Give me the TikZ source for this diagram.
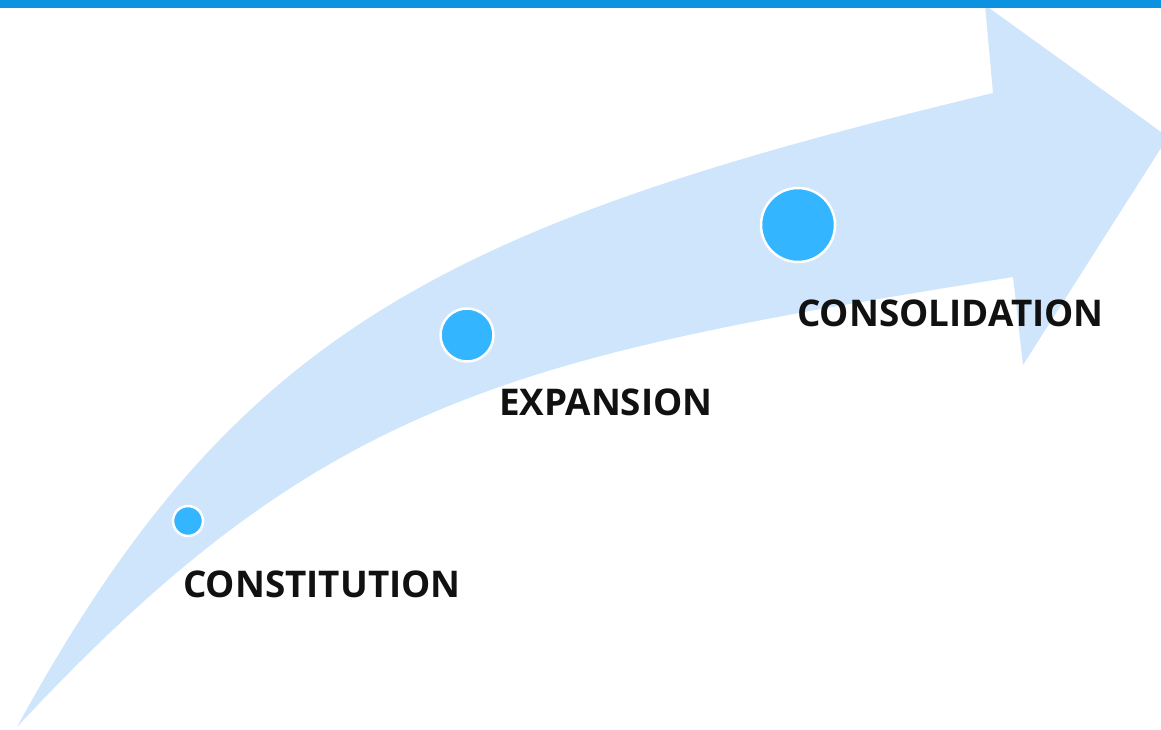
\documentclass[tikz,border=0pt]{standalone}
\usepackage{fontspec}
\setmainfont{Open Sans}
\definecolor{barblue}{RGB}{11,147,225}
\definecolor{arrowfill}{RGB}{207,229,252}
\definecolor{dotfill}{RGB}{51,181,255}
\definecolor{labelink}{RGB}{17,17,17}
\tikzset{
  dot/.style={circle, fill=dotfill, draw=white, line width=2.5pt, inner sep=0pt},
  stagelabel/.style={anchor=base west, inner sep=0pt, text=labelink,
    font=\fontsize{36.8}{40}\selectfont\bfseries},
}
\begin{document}
\begin{tikzpicture}[x=1pt,y=-1pt]
\useasboundingbox (0,0) rectangle (1161,729);
\begin{scope}
\clip (0,0) rectangle (1161,729);
\fill[arrowfill]
  (17,727) .. controls (233,331) and (443,225) .. (993,93)
  -- (985,5) -- (1168,137) -- (1023,365) -- (1013,277)
  .. controls (513,357) and (323,398) .. (17,727)
  -- cycle;
\fill[barblue] (0,0) rectangle (1161,8);
\end{scope}
\node[dot, minimum size=30pt] (c1) at (188,521) {};
\node[dot, minimum size=53pt] (c2) at (467,335) {};
\node[dot, minimum size=74pt] (c3) at (798,225) {};
\node[stagelabel] (l1) at (183,597) {CONSTITUTION};
\node[stagelabel] (l2) at (499,415) {EXPANSION};
\node[stagelabel] (l3) at (797,326) {CONSOLIDATION};
\end{tikzpicture}
\end{document}
